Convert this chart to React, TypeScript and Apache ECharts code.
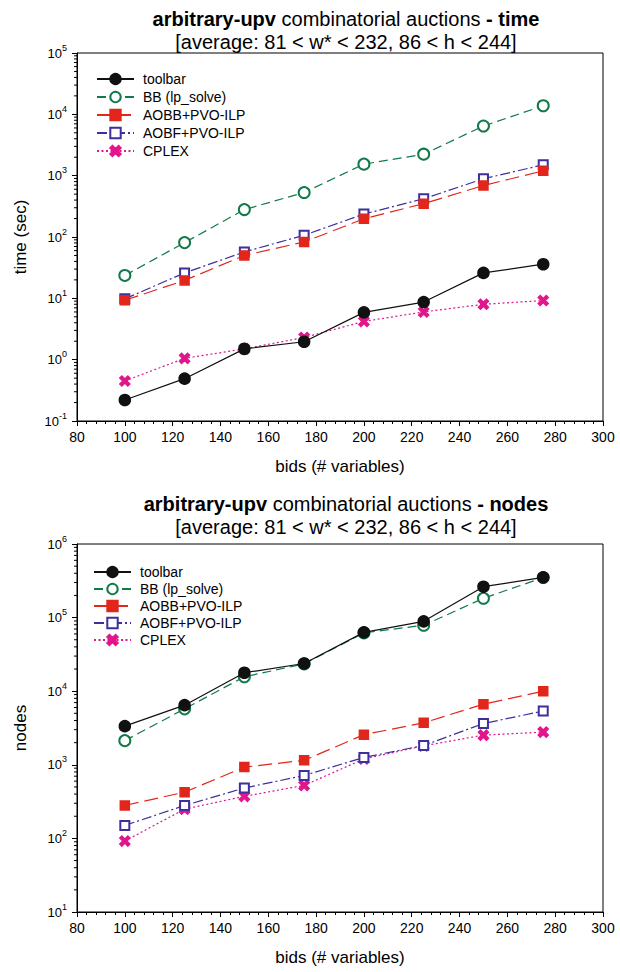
import React, { useEffect, useRef } from "react";
import * as echarts from "echarts";

const bids = [100, 125, 150, 175, 200, 225, 250, 275];

const seriesNames = ["toolbar", "BB (lp_solve)", "AOBB+PVO-ILP", "AOBF+PVO-ILP", "CPLEX"];

// time (sec)
const timeToolbar = [0.22, 0.49, 1.5, 1.96, 5.9, 8.7, 26, 36];
const timeBB = [23.6, 81, 280, 531, 1540, 2240, 6450, 13800];
const timeAOBB = [9.3, 19.6, 50, 83, 198, 350, 690, 1200];
const timeAOBF = [9.8, 26, 57, 107, 237, 420, 890, 1500];
const timeCPLEX = [0.45, 1.05, 1.5, 2.3, 4.2, 6.0, 8.0, 9.2];

// nodes
const nodesToolbar = [3350, 6460, 17800, 23800, 63000, 89000, 263000, 352000];
const nodesBB = [2130, 5760, 15700, 23500, 62000, 78700, 183000, 350000];
const nodesAOBB = [280, 425, 930, 1150, 2570, 3720, 6670, 10000];
const nodesAOBF = [150, 280, 484, 716, 1260, 1830, 3640, 5370];
const nodesCPLEX = [92, 250, 373, 525, 1200, 1810, 2530, 2780];

const FONT = "Liberation Sans";
const X_PATH =
  "path://M2,0 L5,3 L8,0 L10,2 L7,5 L10,8 L8,10 L5,7 L2,10 L0,8 L3,5 L0,2 Z";

const styles = [
  { color: "#111111", symbol: "circle", size: 11, dash: "solid" as any },
  { color: "#107a48", symbol: "emptyCircle", size: 11, dash: [9, 5] },
  { color: "#e2261c", symbol: "rect", size: 9, dash: [14, 6] },
  { color: "#3d2f9c", symbol: "emptyRect", size: 9, dash: [10, 3, 2, 3] },
  { color: "#e2168c", symbol: X_PATH, size: 10, dash: [2, 2.5] },
];

function minorValues(loExp: number, hiExp: number) {
  const out: number[][] = [];
  for (let e = loExp; e < hiExp; e++) {
    for (let m = 2; m <= 9; m++) out.push([80, m * Math.pow(10, e)]);
  }
  return out;
}

export default function App() {
  const ref = useRef<HTMLDivElement>(null);
  useEffect(() => {
    document.body.style.margin = "0";
    const chart = echarts.init(ref.current!, null, { renderer: "svg" });

    const titleStyle = {
      fontFamily: FONT,
      fontSize: 20,
      fontWeight: "normal" as const,
      color: "#000",
      lineHeight: 23,
      rich: {
        b: { fontFamily: FONT, fontSize: 20, fontWeight: "bold" as const, color: "#000", lineHeight: 23 },
      },
    };

    const mkX = (i: number) => ({
      type: "value",
      gridIndex: i,
      min: 80,
      max: 300,
      interval: 20,
      name: "bids (# variables)",
      nameLocation: "middle",
      nameGap: 37,
      nameTextStyle: { fontFamily: FONT, fontSize: 17, color: "#000" },
      axisLine: { lineStyle: { color: "#000", width: 1 } },
      axisTick: { inside: false, length: 5, lineStyle: { color: "#000" } },
      minorTick: { show: true, splitNumber: 5, length: 3, lineStyle: { color: "#000" } },
      axisLabel: { fontFamily: FONT, fontSize: 14, color: "#000", margin: 9 },
      splitLine: { show: false },
    });

    const mkY = (i: number, min: number, max: number, name: string) => ({
      type: "log",
      logBase: 10,
      gridIndex: i,
      min,
      max,
      name,
      nameLocation: "middle",
      nameGap: 48,
      nameTextStyle: { fontFamily: FONT, fontSize: 17, color: "#000" },
      axisLine: { show: true, lineStyle: { color: "#000", width: 1 } },
      axisTick: { inside: false, length: 5, lineStyle: { color: "#000" } },
      splitLine: { show: false },
      axisLabel: {
        margin: 10,
        formatter: (v: number) => {
          const e = Math.round(Math.log10(v));
          return "{b|10}{s|" + e + "}";
        },
        rich: {
          b: { fontFamily: FONT, fontSize: 13, color: "#000", lineHeight: 20 },
          s: { fontFamily: FONT, fontSize: 9, color: "#000", lineHeight: 11, verticalAlign: "top" },
        },
      },
    });

    const mkSeries = (gi: number, arrays: number[][]) =>
      arrays.map((arr, k) => ({
        type: "line",
        name: seriesNames[k],
        xAxisIndex: gi,
        yAxisIndex: gi,
        data: bids.map((b, j) => [b, arr[j]]),
        symbol: styles[k].symbol,
        symbolSize: styles[k].size,
        showSymbol: true,
        lineStyle: { color: styles[k].color, width: 1.2, type: styles[k].dash },
        itemStyle: { color: styles[k].color, borderColor: styles[k].color, borderWidth: 1.5 },
        z: 3 + (arrays.length - k),
      }));

    const mkMinor = (gi: number, lo: number, hi: number) => ({
      type: "custom",
      xAxisIndex: gi,
      yAxisIndex: gi,
      silent: true,
      clip: false,
      z: 10,
      data: minorValues(lo, hi),
      renderItem: (_p: any, api: any) => {
        const p = api.coord([80, api.value(1)]);
        return {
          type: "line",
          shape: { x1: p[0] - 3, y1: p[1], x2: p[0], y2: p[1] },
          style: { stroke: "#000", lineWidth: 1 },
        };
      },
    });

    const mkLegend = (top: number, left: number, gap: number) => ({
      orient: "vertical",
      left,
      top,
      itemWidth: 37,
      itemHeight: 13,
      itemGap: gap,
      data: seriesNames,
      selectedMode: false,
      textStyle: { fontFamily: FONT, fontSize: 14, color: "#000", padding: [0, 0, 0, 4] },
    });

    const option: any = {
      animation: false,
      backgroundColor: "#fff",
      title: [
        {
          text: "{b|arbitrary-upv} combinatorial auctions {b|- time}\n[average: 81 < w* < 232, 86 < h < 244]",
          left: 341,
          textAlign: "center",
          top: 2,
          textStyle: titleStyle,
        },
        {
          text: "{b|arbitrary-upv} combinatorial auctions {b|- nodes}\n[average: 81 < w* < 232, 86 < h < 244]",
          left: 341,
          textAlign: "center",
          top: 487,
          textStyle: titleStyle,
        },
      ],
      legend: [mkLegend(67, 91, 4), mkLegend(560, 88, 3)],
      grid: [
        { left: 77, top: 53, width: 526, height: 368, show: true, borderColor: "#000", borderWidth: 1, backgroundColor: "transparent" },
        { left: 77, top: 544, width: 526, height: 368, show: true, borderColor: "#000", borderWidth: 1, backgroundColor: "transparent" },
      ],
      xAxis: [mkX(0), mkX(1)],
      yAxis: [mkY(0, 0.1, 100000, "time (sec)"), mkY(1, 10, 1000000, "nodes")],
      series: [
        ...mkSeries(0, [timeToolbar, timeBB, timeAOBB, timeAOBF, timeCPLEX]),
        ...mkSeries(1, [nodesToolbar, nodesBB, nodesAOBB, nodesAOBF, nodesCPLEX]),
        mkMinor(0, -1, 5),
        mkMinor(1, 1, 6),
      ],
    };
    chart.setOption(option);
    return () => chart.dispose();
  }, []);
  return <div ref={ref} style={{ width: 620, height: 972 }} />;
}
